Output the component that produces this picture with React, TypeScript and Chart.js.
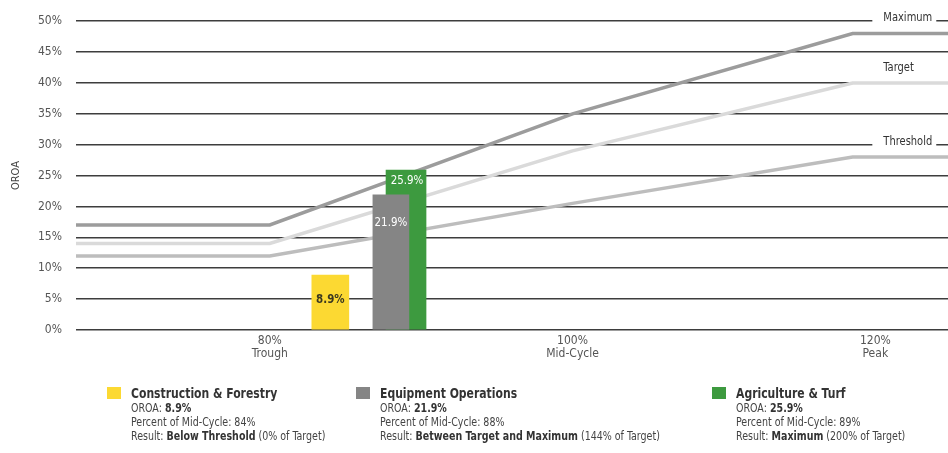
import React, { useEffect, useRef } from "react";
import { Chart, registerables } from "chart.js";

Chart.register(...registerables);

// Percent of mid-cycle sales along the horizontal axis
const cyclePoints = [67.2, 80, 100, 118.5, 124.8];
// OROA performance bands (%)
const maximumLine = [17, 17, 35, 48, 48];
const targetLine = [14, 14, 29, 40, 40];
const thresholdLine = [12, 12, 20.5, 28, 28];
const bandNames = ["Maximum", "Target", "Threshold"];

// Division results
const divisions = ["Construction & Forestry", "Equipment Operations", "Agriculture & Turf"];
const divisionOroa = [8.9, 21.9, 25.9];
const divisionMidCycle = [84, 88, 89];
const divisionResults = ["Below Threshold", "Between Target and Maximum", "Maximum"];
const divisionTargetPct = [0, 144, 200];

// Axis ticks
const xTickValues = [80, 100, 120];
const xTickNames = ["Trough", "Mid-Cycle", "Peak"];
const yMax = 50;
const yStep = 5;

const FONT = "'Liberation Sans Narrow', 'DejaVu Sans Condensed', 'Arial Narrow', sans-serif";
const divisionColors = ["#fcd932", "#858585", "#3d9a3f"];
const bandColors = ["#9c9c9c", "#dadada", "#bdbdbd"];

const bandLabelPlugin = {
  id: "bandLabels",
  afterDatasetsDraw(chart: any) {
    const { ctx, scales } = chart;
    const x = scales.x.getPixelForValue(120) + 8;
    const peaks = [maximumLine[3], targetLine[3], thresholdLine[3]];
    ctx.save();
    ctx.font = `12px ${FONT}`;
    ctx.textBaseline = "middle";
    ctx.textAlign = "left";
    bandNames.forEach((name, i) => {
      const y = scales.y.getPixelForValue(peaks[i] + 2.5);
      const w = ctx.measureText(name).width * 0.92;
      ctx.fillStyle = "#ffffff";
      ctx.fillRect(x - 11, y - 7, w + 15, 14);
      ctx.fillStyle = "#333333";
      ctx.save();
      ctx.translate(x, y);
      ctx.scale(0.92, 1);
      ctx.fillText(name, 0, 0);
      ctx.restore();
    });
    ctx.restore();
  },
};

const barLabelPlugin = {
  id: "barLabels",
  afterDatasetsDraw(chart: any) {
    const { ctx } = chart;
    ctx.save();
    ctx.textAlign = "center";
    ctx.textBaseline = "middle";
    chart.data.datasets.forEach((ds: any, di: number) => {
      if (ds.type !== "bar") return;
      const idx = ds.divisionIndex;
      const bar = chart.getDatasetMeta(di).data[0];
      if (!bar) return;
      const text = `${divisionOroa[idx]}%`;
      let y: number;
      if (idx === 0) {
        y = (bar.y + bar.base) / 2 - 3;
        ctx.fillStyle = "#3a3820";
        ctx.font = `bold 13px ${FONT}`;
      } else {
        y = bar.y + (idx === 1 ? 28 : 11);
        ctx.fillStyle = "#ffffff";
        ctx.font = `13px ${FONT}`;
      }
      ctx.save();
      ctx.translate(bar.x + (idx === 2 ? 1 : 0), y);
      ctx.scale(0.88, 1);
      ctx.fillText(text, 0, 0);
      ctx.restore();
    });
    ctx.restore();
  },
};

function ChartCanvas() {
  const ref = useRef<HTMLCanvasElement | null>(null);

  useEffect(() => {
    if (!ref.current) return;
    const lineSet = (vals: number[], i: number) => ({
      type: "line" as const,
      label: bandNames[i],
      data: cyclePoints.map((x, k) => ({ x, y: vals[k] })),
      borderColor: bandColors[i],
      borderWidth: 3.5,
      pointRadius: 0,
      tension: 0,
      order: 10 + i,
    });
    const barSet = (i: number, thickness: number, order: number) => ({
      type: "bar" as const,
      label: divisions[i],
      divisionIndex: i,
      data: [{ x: divisionMidCycle[i], y: divisionOroa[i] }],
      backgroundColor: divisionColors[i],
      barThickness: thickness,
      grouped: false,
      order,
    });

    const chart = new Chart(ref.current, {
      type: "bar",
      data: {
        datasets: [
          barSet(0, 37, 0),
          barSet(1, 36, 0),
          barSet(2, 40, 1),
          lineSet(maximumLine, 0),
          lineSet(targetLine, 1),
          lineSet(thresholdLine, 2),
        ] as any,
      },
      options: {
        responsive: false,
        animation: false,
        devicePixelRatio: 1,
        layout: { padding: { top: 21, right: 0, bottom: 0, left: 0 } },
        plugins: { legend: { display: false }, tooltip: { enabled: false } },
        scales: {
          x: {
            type: "linear",
            min: cyclePoints[0],
            max: cyclePoints[cyclePoints.length - 1],
            offset: false,
            grid: { display: false, offset: false, drawTicks: false },
            border: { display: false },
            afterFit: (s: any) => {
              s.height = 123;
            },
            afterBuildTicks: (s: any) => {
              s.ticks = xTickValues.map((v) => ({ value: v }));
            },
            ticks: {
              autoSkip: false,
              maxRotation: 0,
              padding: 5,
              color: "#555555",
              font: { family: FONT, size: 12, lineHeight: 1.05 },
              callback: (v: any) => {
                const i = xTickValues.indexOf(Number(v));
                return [`${v}%`, xTickNames[i] ?? ""];
              },
            },
          },
          y: {
            min: 0,
            max: yMax,
            grid: { color: "#3d3d3d", lineWidth: 1.5, drawTicks: false },
            border: { display: false },
            afterFit: (s: any) => {
              s.width = 76;
            },
            title: {
              display: true,
              text: "OROA",
              color: "#444444",
              font: { family: FONT, size: 11 },
              padding: { top: 10, bottom: 0 },
            },
            ticks: {
              stepSize: yStep,
              padding: 14,
              color: "#555555",
              font: { family: FONT, size: 12 },
              callback: (v: any) => `${v}%`,
            },
          },
        },
      },
      plugins: [bandLabelPlugin, barLabelPlugin],
    });
    return () => chart.destroy();
  }, []);

  return <canvas ref={ref} width={948} height={453} style={{ display: "block" }} />;
}

const legendLeft = [107, 356, 712];

export default function App() {
  return (
    <div
      style={{
        position: "fixed",
        left: 0,
        top: 0,
        width: 948,
        height: 453,
        background: "#ffffff",
        overflow: "hidden",
      }}
    >
      <ChartCanvas />
      {divisions.map((name, i) => (
        <div
          key={name}
          style={{
            position: "absolute",
            left: legendLeft[i],
            top: 385,
            fontFamily: FONT,
            color: "#444444",
            whiteSpace: "nowrap",
          }}
        >
          <div
            style={{
              position: "absolute",
              left: 0,
              top: 2,
              width: 14,
              height: 12,
              background: divisionColors[i],
            }}
          />
          <div style={{ marginLeft: 24 }}>
            <div
              style={{
                fontSize: 14,
                fontWeight: "bold",
                lineHeight: "16px",
                color: "#333333",
                transform: "scaleX(0.86)",
                transformOrigin: "left top",
              }}
            >
              {name}
            </div>
            <div style={{ transform: "scaleX(0.88)", transformOrigin: "left top" }}>
              <div style={{ fontSize: 12, lineHeight: "14px" }}>
                OROA: <b style={{ color: "#333333" }}>{divisionOroa[i]}%</b>
              </div>
              <div style={{ fontSize: 12, lineHeight: "14px" }}>Percent of Mid-Cycle: {divisionMidCycle[i]}%</div>
              <div style={{ fontSize: 12, lineHeight: "14px" }}>
                Result: <b style={{ color: "#333333" }}>{divisionResults[i]}</b> ({divisionTargetPct[i]}% of Target)
              </div>
            </div>
          </div>
        </div>
      ))}
    </div>
  );
}
